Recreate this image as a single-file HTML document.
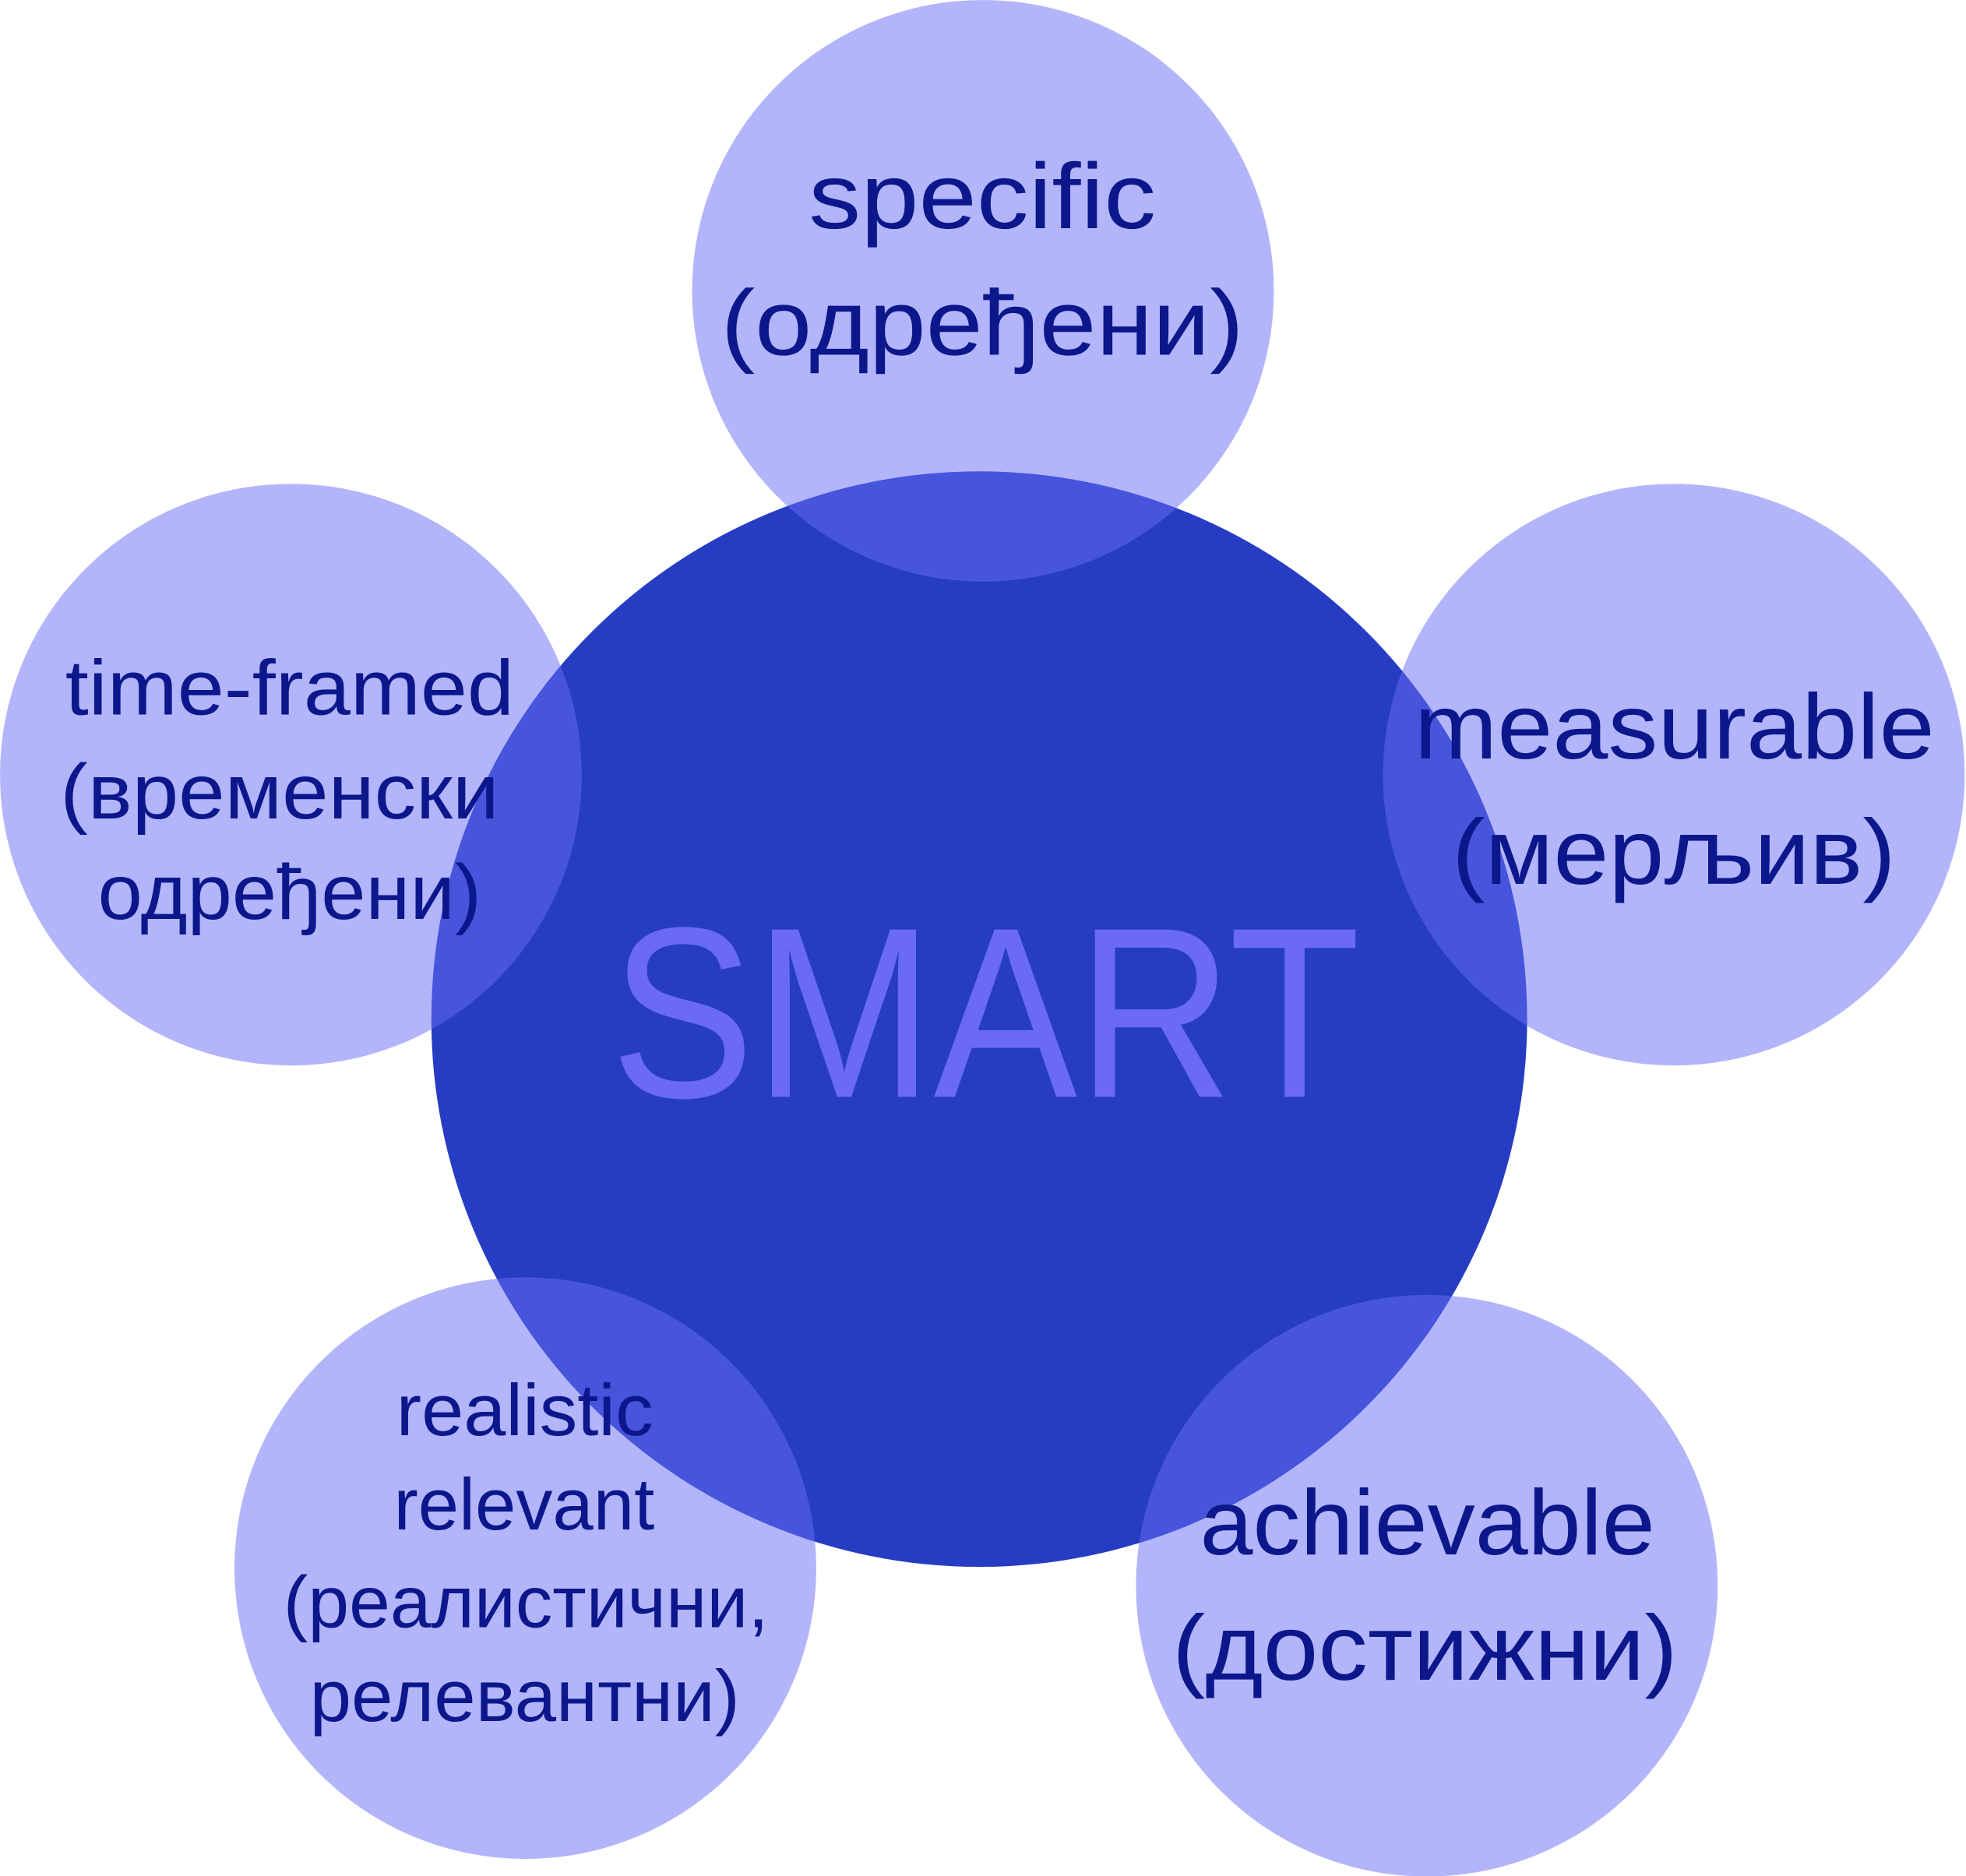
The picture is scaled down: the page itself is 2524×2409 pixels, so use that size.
<!DOCTYPE html>
<html><head><meta charset="utf-8"><style>
html,body{margin:0;padding:0;background:#fff;}
svg{display:block;}
text{font-family:"Liberation Sans","DejaVu Sans",sans-serif;fill:#0c178c;}
</style></head><body>
<svg width="2524" height="2409" viewBox="0 0 1568 1496.6" xmlns="http://www.w3.org/2000/svg">
<rect width="1568" height="1497" fill="#fff"/>
<circle cx="781" cy="813" r="437" fill="#263dc3"/>
<g fill="rgb(103,107,245)" fill-opacity="0.5">
<circle cx="784" cy="232" r="232"/>
<circle cx="232" cy="618" r="232"/>
<circle cx="1335" cy="618" r="232"/>
<circle cx="419" cy="1251" r="232"/>
<circle cx="1138" cy="1265" r="232"/>
</g>
<text x="487" y="875" font-size="194" textLength="598" lengthAdjust="spacingAndGlyphs" style="fill:#6a6af5">SMART</text>
<text x="645" y="182" font-size="74" textLength="277" lengthAdjust="spacingAndGlyphs">specific</text>
<text x="575" y="283" font-size="74" textLength="417" lengthAdjust="spacingAndGlyphs">(одређени)</text>
<text x="52" y="570" font-size="62" textLength="358" lengthAdjust="spacingAndGlyphs">time-framed</text>
<text x="48" y="653" font-size="62" textLength="350" lengthAdjust="spacingAndGlyphs">(временски</text>
<text x="78" y="733" font-size="62" textLength="306" lengthAdjust="spacingAndGlyphs">одређени)</text>
<text x="1128" y="605" font-size="74" textLength="415" lengthAdjust="spacingAndGlyphs">measurable</text>
<text x="1158" y="705" font-size="74" textLength="354" lengthAdjust="spacingAndGlyphs">(мерљив)</text>
<text x="316" y="1145" font-size="58" textLength="205" lengthAdjust="spacingAndGlyphs">realistic</text>
<text x="314" y="1220" font-size="58" textLength="208" lengthAdjust="spacingAndGlyphs">relevant</text>
<text x="226" y="1298" font-size="58" textLength="387" lengthAdjust="spacingAndGlyphs">(реалистични,</text>
<text x="247" y="1373" font-size="58" textLength="343" lengthAdjust="spacingAndGlyphs">релевантни)</text>
<text x="957" y="1240" font-size="74" textLength="363" lengthAdjust="spacingAndGlyphs">achievable</text>
<text x="935" y="1340" font-size="74" textLength="403" lengthAdjust="spacingAndGlyphs">(достижни)</text>
</svg>
</body></html>
